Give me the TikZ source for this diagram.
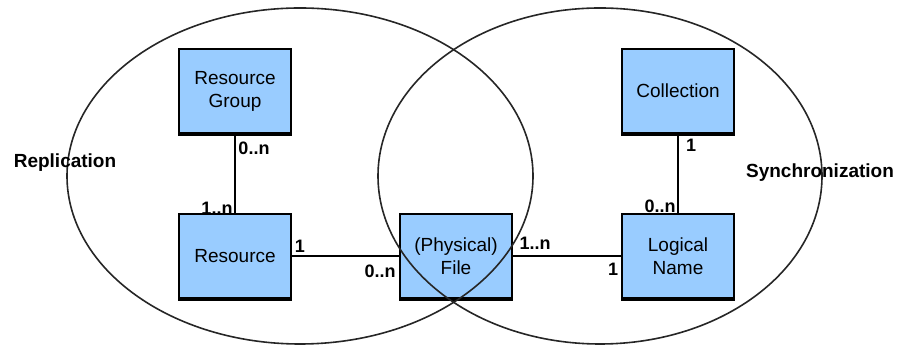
\documentclass[tikz,border=0pt]{standalone}
\usepackage{fontspec}
\setmainfont{Liberation Sans}
\usepackage{xcolor}
\usepackage{tikz}
\definecolor{boxblue}{RGB}{153,204,255}

\begin{document}
\begin{tikzpicture}[
    x=0.5pt, y=-0.5pt,
    entity/.style={draw, fill=boxblue, line width=0.7pt, align=center,
                   minimum width=56pt, minimum height=42pt,
                   font=\fontsize{9.5}{11.5}\selectfont},
    link/.style={line width=1.1pt},
    mult/.style={font=\fontsize{9}{10}\selectfont\bfseries, inner sep=0pt},
    region/.style={font=\fontsize{9.5}{11}\selectfont\bfseries, inner sep=0pt},
    set/.style={line width=0.8pt, draw=black!85}
  ]
  \useasboundingbox (0,0) rectangle (899,346);

  \node[entity] (rg)   at (235,91)  {Resource\\Group};
  \node[entity] (res)  at (235,256) {Resource};
  \node[entity] (file) at (456,256) {(Physical)\\File};
  \node[entity] (coll) at (678,91)  {Collection};
  \node[entity] (ln)   at (678,256) {Logical\\Name};

  % heavier bottom edge of each box
  \foreach \b in {rg,res,file,coll,ln}
    \draw[line width=1.6pt] ([yshift=-0.4pt]\b.south west) -- ([yshift=-0.4pt]\b.south east);

  \draw[link] (rg) -- (res);
  \draw[link] (res) -- (file);
  \draw[link] (file) -- (ln);
  \draw[link] (coll) -- (ln);

  \node[mult] (m1) at (254,148) {0..n};
  \node[mult] (m2) at (217,208) {1..n};
  \node[mult] (m3) at (300,246) {1};
  \node[mult] (m4) at (380,271) {0..n};
  \node[mult] (m5) at (535,243) {1..n};
  \node[mult] (m6) at (613,269) {1};
  \node[mult] (m7) at (691,145) {1};
  \node[mult] (m8) at (660,206) {0..n};

  % the two overlapping sets
  \draw[set] (300,176) ellipse [x radius=116.5pt, y radius=84pt];
  \draw[set] (600,176) ellipse [x radius=111pt, y radius=84pt];

  \node[region] (repl) at (65,163)  {Replication};
  \node[region] (sync) at (820,173) {Synchronization};
\end{tikzpicture}
\end{document}
